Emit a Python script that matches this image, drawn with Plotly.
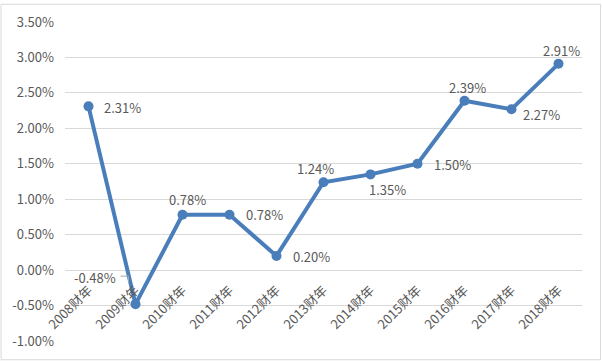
import plotly.graph_objects as go

categories = ["2008财年", "2009财年", "2010财年", "2011财年", "2012财年", "2013财年",
              "2014财年", "2015财年", "2016财年", "2017财年", "2018财年"]
values = [0.0231, -0.0048, 0.0078, 0.0078, 0.0020, 0.0124, 0.0135, 0.0150, 0.0239, 0.0227, 0.0291]
value_labels = ["2.31%", "-0.48%", "0.78%", "0.78%", "0.20%", "1.24%", "1.35%", "1.50%", "2.39%", "2.27%", "2.91%"]
# label offsets in pixels (dx right, dy down)
label_dx = [34, -41, 5, 35, 35, -8, 17, 35, 3, 30, 3]
label_dy = [1, -27, -15, 0, 1, -14, 15, 1, -13, 5, -13]

y_ticks = [-0.01, -0.005, 0.0, 0.005, 0.01, 0.015, 0.02, 0.025, 0.03, 0.035]
y_tick_labels = ["-1.00%", "-0.50%", "0.00%", "0.50%", "1.00%", "1.50%", "2.00%", "2.50%", "3.00%", "3.50%"]

FONT = "Noto Sans CJK SC"
TXT = "#595959"
LINE = "#4a7ebb"
GRID = "#d9d9d9"
FS = 13

y_min, y_max = -0.01, 0.035

fig = go.Figure()
fig.add_trace(go.Scatter(
    x=list(range(len(categories))), y=values, mode="lines+markers",
    line=dict(color=LINE, width=4), marker=dict(color=LINE, size=10),
    hoverinfo="skip", showlegend=False, cliponaxis=False))

for i, (v, t) in enumerate(zip(values, value_labels)):
    fig.add_annotation(x=i, y=v, text=t, showarrow=False,
                       xshift=label_dx[i], yshift=-label_dy[i],
                       font=dict(family=FONT, size=FS, color=TXT))

# leader line for the 2009 label
fig.add_shape(type="path", xref="x", yref="y", xsizemode="pixel", ysizemode="pixel",
              xanchor=1, yanchor=values[1],
              path="M -15,28 L -7,28 L -7,21",
              line=dict(color="#a6a6a6", width=1))

# outer border
fig.add_shape(type="rect", xref="paper", yref="paper",
              x0=(1 - 65) / 517.5, x1=(601 - 65) / 517.5,
              y0=-(361 - 342) / 323, y1=1 + (19 - 1) / 323,
              line=dict(color=GRID, width=1), layer="below")

fig.update_layout(
    width=602, height=362,
    margin=dict(l=65, r=19.5, t=19, b=20),
    paper_bgcolor="white", plot_bgcolor="white",
    font=dict(family=FONT, size=FS, color=TXT),
    xaxis=dict(
        range=[-0.5, len(categories) - 0.5],
        tickmode="array", tickvals=list(range(len(categories))), ticktext=categories,
        tickangle=-45, showgrid=False, zeroline=False, showline=False,
        anchor="free", position=(0 - y_min) / (y_max - y_min),
        tickfont=dict(family=FONT, size=FS, color=TXT), ticks="", ticklabelstandoff=9,
    ),
    yaxis=dict(
        range=[y_min, y_max], tickmode="array", tickvals=y_ticks, ticktext=y_tick_labels,
        showgrid=True, gridcolor=GRID, gridwidth=1, zeroline=False, showline=False,
        tickfont=dict(family=FONT, size=FS, color=TXT), ticks="", ticklabelstandoff=10,
    ),
)

fig.write_html("out.html", config={"displayModeBar": False},
               post_script="document.body.style.margin='0';document.body.style.padding='0';")
